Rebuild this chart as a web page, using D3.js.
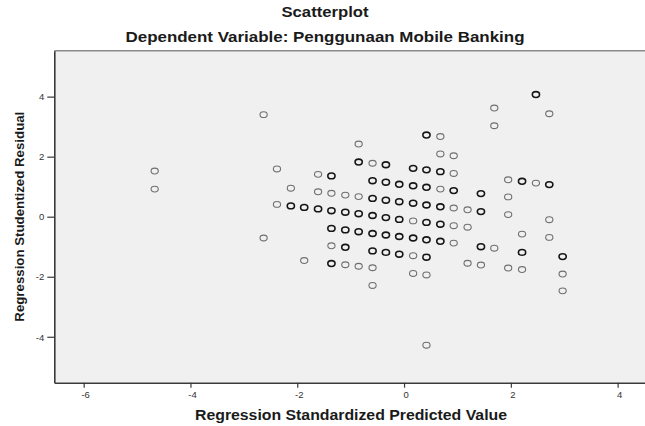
<!DOCTYPE html>
<html>
<head>
<meta charset="utf-8">
<script src="https://cdn.jsdelivr.net/npm/d3@7"></script>
<style>
  html, body { margin: 0; padding: 0; background: #ffffff; }
  svg { display: block; }
  text { font-family: "Liberation Sans", Arial, sans-serif; }
</style>
</head>
<body>
<svg id="chart" width="645" height="426"></svg>
<script>
// ---- data ----
const titleText = "Scatterplot";
const subtitleText = "Dependent Variable: Penggunaan Mobile Banking";
const xLabel = "Regression Standardized Predicted Value";
const yLabel = "Regression Studentized Residual";
const xTicks = [-6, -4, -2, 0, 2, 4];
const yTicks = [-4, -2, 0, 2, 4];

const predicted = [
  -4.67, -4.67,
  -2.63, -2.63,
  -2.38, -2.38,
  -2.12, -2.12,
  -1.87, -1.87,
  -1.61, -1.61, -1.61,
  -1.36, -1.36, -1.36, -1.36, -1.36, -1.36,
  -1.10, -1.10, -1.10, -1.10, -1.10,
  -0.85, -0.85, -0.85, -0.85, -0.85, -0.85,
  -0.59, -0.59, -0.59, -0.59, -0.59, -0.59, -0.59, -0.59,
  -0.34, -0.34, -0.34, -0.34, -0.34, -0.34,
  -0.09, -0.09, -0.09, -0.09, -0.09,
  0.17, 0.17, 0.17, 0.17, 0.17, 0.17, 0.17,
  0.42, 0.42, 0.42, 0.42, 0.42, 0.42, 0.42, 0.42, 0.42,
  0.68, 0.68, 0.68, 0.68, 0.68, 0.68, 0.68,
  0.93, 0.93, 0.93, 0.93, 0.93, 0.93,
  1.19, 1.19, 1.19,
  1.44, 1.44, 1.44, 1.44,
  1.69, 1.69, 1.69,
  1.95, 1.95, 1.95, 1.95,
  2.21, 2.21, 2.21, 2.21,
  2.47, 2.47,
  2.72, 2.72, 2.72, 2.72,
  2.97, 2.97, 2.97
];
const residual = [
  1.52, 0.92,
  3.40, -0.71,
  1.59, 0.41,
  0.95, 0.36,
  0.31, -1.46,
  1.41, 0.83, 0.26,
  1.36, 0.78, 0.20, -0.39, -0.97, -1.56,
  0.72, 0.15, -0.44, -1.02, -1.60,
  2.42, 1.82, 0.67, 0.10, -0.50, -1.65,
  1.78, 1.20, 0.61, 0.04, -0.56, -1.14, -1.70, -2.29,
  1.73, 1.15, 0.55, -0.03, -0.61, -1.19,
  1.08, 0.50, -0.09, -0.66, -1.25,
  1.61, 1.03, 0.45, -0.14, -0.71, -1.30, -1.89,
  2.72, 1.56, 0.98, 0.39, -0.19, -0.77, -1.35, -1.94, -4.28,
  2.67, 2.09, 1.50, 0.92, 0.33, -0.25, -0.82,
  2.03, 1.44, 0.87, 0.29, -0.30, -0.88,
  0.23, -0.35, -1.55,
  0.77, 0.17, -1.00, -1.61,
  3.62, 3.03, -1.05,
  1.23, 0.66, 0.07, -1.71,
  1.18, -0.58, -1.19, -1.76,
  4.07, 1.12,
  3.43, 1.07, -0.10, -0.69,
  -1.33, -1.91, -2.47
];
const cases = [
  1, 1,
  1, 1,
  1, 1,
  1, 2,
  2, 1,
  1, 1, 2,
  2, 1, 2, 2, 1, 2,
  1, 2, 2, 2, 1,
  1, 2, 1, 2, 2, 1,
  1, 2, 2, 2, 2, 2, 1, 1,
  2, 2, 2, 2, 2, 2,
  2, 2, 2, 2, 2,
  2, 2, 2, 1, 2, 1, 1,
  2, 2, 2, 2, 2, 2, 2, 1, 1,
  1, 1, 2, 1, 2, 2, 2,
  1, 1, 2, 1, 1, 1,
  1, 1, 1,
  2, 2, 2, 1,
  1, 1, 1,
  1, 1, 1, 1,
  2, 1, 2, 1,
  2, 1,
  1, 2, 1, 1,
  2, 1, 1
];

const points = predicted.map((p, i) => ({ x: p, y: residual[i], n: cases[i] }));

// ---- layout ----
const W = 645, H = 426;
const plot = { left: 54.3, top: 50.7, right: 647, bottom: 382.7 };

const x = d3.scaleLinear().domain([-6.55, 4.55]).range([plot.left, plot.right]);
const y = d3.scaleLinear().domain([-5.53, 5.53]).range([plot.bottom, plot.top]);

const svg = d3.select("#chart");

// plot background
svg.append("rect")
  .attr("x", plot.left).attr("y", plot.top)
  .attr("width", plot.right - plot.left).attr("height", plot.bottom - plot.top)
  .attr("fill", "#f0f0f0");

// top border
svg.append("line")
  .attr("x1", plot.left).attr("x2", plot.right)
  .attr("y1", plot.top).attr("y2", plot.top)
  .attr("stroke", "#8a8a8a").attr("stroke-width", 1.5);

// points
svg.append("g").selectAll("ellipse")
  .data(points)
  .join("ellipse")
  .attr("cx", d => x(d.x))
  .attr("cy", d => y(d.y))
  .attr("rx", 3.6)
  .attr("ry", 2.9)
  .attr("fill", "none")
  .attr("stroke", d => d.n > 1 ? "#151515" : "#6f6f6f")
  .attr("stroke-width", d => d.n > 1 ? 1.6 : 1.1);

// axes
const xAxis = d3.axisBottom(x).tickValues(xTicks).tickSize(5).tickSizeOuter(0)
  .tickFormat(d => d);
const yAxis = d3.axisLeft(y).tickValues(yTicks).tickSize(7).tickSizeOuter(0)
  .tickFormat(d => d);

const gx = svg.append("g").attr("transform", `translate(0,${plot.bottom})`).call(xAxis);
gx.select(".domain").attr("stroke", "#3a3a3a").attr("stroke-width", 1.6);
gx.selectAll(".tick line").attr("stroke", "#3a3a3a").attr("stroke-width", 1.2);
gx.selectAll(".tick text")
  .attr("fill", "#333").attr("font-size", 9.5)
  .attr("font-family", "'Liberation Sans', Arial, sans-serif")
  .attr("dy", "0").attr("y", 15.5).attr("dx", 1.5);

const gy = svg.append("g").attr("transform", `translate(${plot.left},0)`).call(yAxis);
gy.select(".domain").attr("stroke", "#3a3a3a").attr("stroke-width", 1.6);
gy.selectAll(".tick line").attr("stroke", "#3a3a3a").attr("stroke-width", 1.2);
gy.selectAll(".tick text")
  .attr("fill", "#333").attr("font-size", 9.5)
  .attr("font-family", "'Liberation Sans', Arial, sans-serif")
  .attr("x", -10).attr("dy", "0.34em");

// titles
svg.append("text")
  .attr("x", 325).attr("y", 17)
  .attr("text-anchor", "middle")
  .attr("font-size", 14).attr("font-weight", "bold").attr("fill", "#1a1a1a")
  .attr("textLength", 87).attr("lengthAdjust", "spacingAndGlyphs")
  .text(titleText);

svg.append("text")
  .attr("x", 325).attr("y", 41.5)
  .attr("text-anchor", "middle")
  .attr("font-size", 14).attr("font-weight", "bold").attr("fill", "#1a1a1a")
  .attr("textLength", 399).attr("lengthAdjust", "spacingAndGlyphs")
  .text(subtitleText);

svg.append("text")
  .attr("x", 351).attr("y", 419.5)
  .attr("text-anchor", "middle")
  .attr("font-size", 14).attr("font-weight", "bold").attr("fill", "#1a1a1a")
  .attr("textLength", 312).attr("lengthAdjust", "spacingAndGlyphs")
  .text(xLabel);

svg.append("text")
  .attr("transform", `translate(23.5,${(plot.top + plot.bottom) / 2}) rotate(-90)`)
  .attr("text-anchor", "middle")
  .attr("font-size", 13.3).attr("font-weight", "bold").attr("fill", "#1a1a1a")
  .attr("textLength", 210).attr("lengthAdjust", "spacingAndGlyphs")
  .text(yLabel);
</script>
</body>
</html>
